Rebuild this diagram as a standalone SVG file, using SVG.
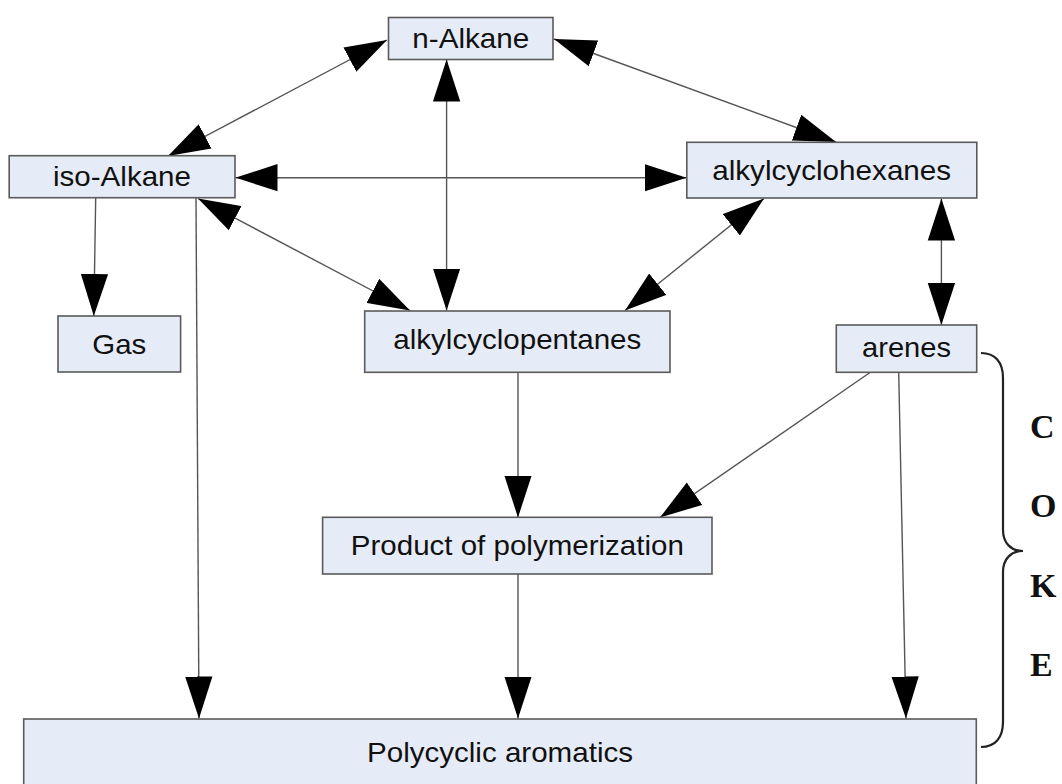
<svg xmlns="http://www.w3.org/2000/svg" width="1062" height="784" viewBox="0 0 1062 784">
<style>
.box{fill:#e6ecf7;stroke:#5a5a5a;stroke-width:1.6}
.lbl{font-family:"Liberation Sans",Arial,sans-serif;font-size:28px;fill:#111;text-anchor:middle}
.edge{stroke:#555;stroke-width:1.4;fill:none}
.coke{font-family:"Liberation Serif","Times New Roman",serif;font-weight:bold;font-size:34px;fill:#111}
</style>
<defs>
<marker id="ah" markerUnits="userSpaceOnUse" markerWidth="42" markerHeight="28" viewBox="0 0 40 26" refX="40" refY="13" orient="auto-start-reverse">
<path d="M0,0 L40,13 L0,26 z" fill="#000"/>
</marker>
</defs>
<rect width="1062" height="784" fill="#fff"/>
<g id="connectors">
<line class="edge" x1="387" y1="40" x2="168" y2="156" marker-start="url(#ah)" marker-end="url(#ah)"/>
<line class="edge" x1="554" y1="39" x2="836" y2="142" marker-start="url(#ah)" marker-end="url(#ah)"/>
<line class="edge" x1="446.6" y1="59.5" x2="446.6" y2="310.5" marker-start="url(#ah)" marker-end="url(#ah)"/>
<line class="edge" x1="235.5" y1="177.7" x2="686.5" y2="177.7" marker-start="url(#ah)" marker-end="url(#ah)"/>
<line class="edge" x1="198" y1="198.5" x2="410" y2="310.5" marker-start="url(#ah)" marker-end="url(#ah)"/>
<line class="edge" x1="764" y1="198.5" x2="625" y2="310.5" marker-start="url(#ah)" marker-end="url(#ah)"/>
<line class="edge" x1="941.4" y1="198.5" x2="941.4" y2="325" marker-start="url(#ah)" marker-end="url(#ah)"/>
<line class="edge" x1="95.7" y1="198" x2="93.8" y2="316" marker-end="url(#ah)"/>
<line class="edge" x1="196" y1="198" x2="199" y2="718.5" marker-end="url(#ah)"/>
<line class="edge" x1="518" y1="372.5" x2="518" y2="517.5" marker-end="url(#ah)"/>
<line class="edge" x1="870" y1="372.5" x2="660" y2="517.5" marker-end="url(#ah)"/>
<line class="edge" x1="898.7" y1="372.5" x2="906" y2="718.5" marker-end="url(#ah)"/>
<line class="edge" x1="518" y1="574" x2="518" y2="718.5" marker-end="url(#ah)"/>
</g>
<g id="n-alkane">
<rect class="box" x="388.5" y="17.5" width="164.5" height="42"/>
<text class="lbl" x="470.8" y="47.8" textLength="117" lengthAdjust="spacingAndGlyphs">n-Alkane</text>
</g>
<g id="iso-alkane">
<rect class="box" x="9.2" y="155.7" width="225.8" height="42"/>
<text class="lbl" x="122" y="186.3" textLength="138" lengthAdjust="spacingAndGlyphs">iso-Alkane</text>
</g>
<g id="alkylcyclohexanes">
<rect class="box" x="686.8" y="142.3" width="290" height="55.7"/>
<text class="lbl" x="831.7" y="179.6" textLength="239" lengthAdjust="spacingAndGlyphs">alkylcyclohexanes</text>
</g>
<g id="gas">
<rect class="box" x="58" y="316" width="122.6" height="56"/>
<text class="lbl" x="119.3" y="353.6" textLength="54" lengthAdjust="spacingAndGlyphs">Gas</text>
</g>
<g id="alkylcyclopentanes">
<rect class="box" x="364.7" y="311" width="305.3" height="61.3"/>
<text class="lbl" x="517.3" y="349" textLength="248" lengthAdjust="spacingAndGlyphs">alkylcyclopentanes</text>
</g>
<g id="arenes">
<rect class="box" x="836.3" y="325" width="140.4" height="47.3"/>
<text class="lbl" x="906.5" y="357" textLength="89" lengthAdjust="spacingAndGlyphs">arenes</text>
</g>
<g id="product">
<rect class="box" x="322.6" y="517.3" width="389.4" height="56.7"/>
<text class="lbl" x="517.3" y="555.3" textLength="333" lengthAdjust="spacingAndGlyphs">Product of polymerization</text>
</g>
<g id="polycyclic">
<rect class="box" x="23.7" y="719" width="952.6" height="80"/>
<text class="lbl" x="500" y="762" textLength="266" lengthAdjust="spacingAndGlyphs">Polycyclic aromatics</text>
</g>
<g id="coke">
<path d="M981,353 C995,353 1003,362 1003,378 L1003,530 C1003,543 1011,551 1023,551 C1011,551 1003,559 1003,572 L1003,722 C1003,738 995,747 981,747" fill="none" stroke="#222" stroke-width="2.2"/>
<text class="coke" x="1030" y="438">C</text>
<text class="coke" x="1030" y="517">O</text>
<text class="coke" x="1030" y="597">K</text>
<text class="coke" x="1030" y="676">E</text>
</g>
</svg>
